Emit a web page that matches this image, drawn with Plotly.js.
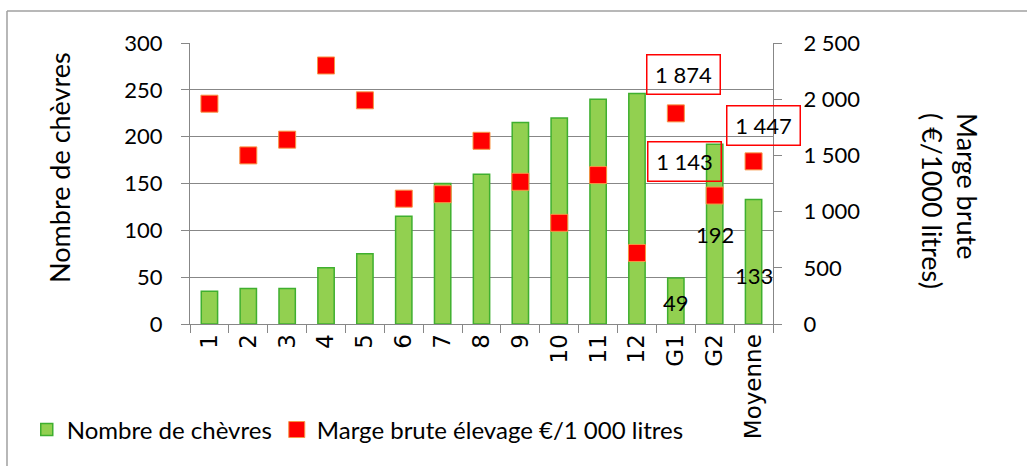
<!DOCTYPE html>
<html>
<head>
<meta charset="utf-8">
<script src="https://cdn.plot.ly/plotly-3.0.1.min.js"></script>
<style>
  html, body { margin: 0; padding: 0; background: #fff; }
  #chart { width: 1027px; height: 466px; }
</style>
</head>
<body>
<div id="chart"></div>
<script>
// categories on the x axis
let elevages = ["1", "2", "3", "4", "5", "6", "7", "8", "9", "10", "11", "12", "G1", "G2", "Moyenne"];

// number of goats (left axis)
let nbChevres = [35, 38, 38, 60, 75, 115, 150, 160, 215, 220, 240, 246, 49, 192, 133];

// gross margin in euros per 1000 litres (right axis)
let margeBrute = [1960, 1500, 1640, 2300, 1990, 1115, 1155, 1630, 1265, 900, 1325, 632, 1874, 1143, 1447];

// which bars / points carry a value label
let barLabelIdx = [12, 13, 14];
let boxLabelIdx = [12, 13, 14];

// offsets of the labels from their data point, in pixels
let barLabelShift = [-24, -90, -76];
let boxLabelShift = [[8, 39], [-30, 34], [10, 36]];

let gris = "#878787";

// french number format: 1 874
function fmt(v) {
    return String(v).replace(/\B(?=(\d{3})+(?!\d))/g, " ");
}

let barTrace = {
    x: elevages,
    y: nbChevres,
    name: "Nombre de chèvres",
    type: "bar",
    marker: { color: "#92D050", line: { color: "#3FAF2F", width: 1.5 } },
    hoverinfo: "x+y"
};

let margeTrace = {
    x: elevages,
    y: margeBrute,
    name: "Marge brute élevage €/1 000 litres",
    type: "scatter",
    mode: "markers",
    yaxis: "y2",
    marker: { symbol: "square", size: 17, color: "#FF0000", line: { color: "#F79646", width: 1 } },
    hoverinfo: "x+y"
};

let annotations = [];

// plain labels on the last three bars
barLabelIdx.forEach(function(i, k) {
    annotations.push({
        x: elevages[i], y: nbChevres[i], xref: "x", yref: "y",
        text: String(nbChevres[i]), showarrow: false,
        yshift: barLabelShift[k],
        font: { family: "Lato", size: 22, color: "#000" }
    });
});

// boxed labels for the last three points
boxLabelIdx.forEach(function(i, k) {
    annotations.push({
        x: elevages[i], y: margeBrute[i], xref: "x", yref: "y2",
        text: fmt(margeBrute[i]), showarrow: false,
        xshift: boxLabelShift[k][0], yshift: boxLabelShift[k][1],
        width: 70, height: 36,
        bordercolor: "#FF0000", borderwidth: 1.5,
        font: { family: "Lato", size: 22, color: "#000" }
    });
});

// axis titles
annotations.push({
    xref: "paper", yref: "paper", x: -0.223, y: 0.559,
    xanchor: "center", yanchor: "middle",
    text: "Nombre de chèvres", textangle: -90, showarrow: false,
    font: { family: "Lato", size: 27, color: "#000" }
});
annotations.push({
    xref: "paper", yref: "paper", x: 1.3036, y: 0.4377,
    xanchor: "center", yanchor: "middle",
    text: "Marge brute<br>( €/1000 litres)", textangle: 90, align: "left", showarrow: false,
    font: { family: "Lato", size: 27, color: "#000" }
});

let layout = {
    width: 1027,
    height: 466,
    margin: { l: 190, r: 254, t: 43, b: 142 },
    paper_bgcolor: "#fff",
    plot_bgcolor: "#fff",
    separators: ", ",
    font: { family: "Lato", size: 22, color: "#000" },
    showlegend: true,
    bargap: 0.58,
    xaxis: {
        type: "category",
        range: [-0.5, elevages.length - 0.5],
        tickangle: -90,
        ticks: "outside",
        tickson: "boundaries",
        ticklen: 8,
        tickcolor: gris,
        showline: true,
        linecolor: gris,
        showgrid: false,
        zeroline: false,
        tickfont: { family: "DejaVu Sans", size: 23, color: "#000" }
    },
    yaxis: {
        range: [0, 300],
        dtick: 50,
        ticks: "outside",
        ticklen: 8,
        tickcolor: gris,
        showline: true,
        linecolor: gris,
        gridcolor: gris,
        zeroline: false,
        ticklabelstandoff: 14,
        tickfont: { family: "Lato", size: 22, color: "#000" }
    },
    yaxis2: {
        range: [0, 2500],
        dtick: 500,
        overlaying: "y",
        side: "right",
        ticks: "outside",
        ticklen: 8,
        tickcolor: gris,
        showline: true,
        linecolor: gris,
        showgrid: false,
        zeroline: false,
        separatethousands: true,
        ticklabelstandoff: 17,
        tickfont: { family: "Lato", size: 22, color: "#000" }
    },
    legend: {
        orientation: "h",
        x: -0.28,
        xanchor: "left",
        y: -0.377,
        yanchor: "middle",
        font: { family: "Lato", size: 24, color: "#000" },
        bgcolor: "rgba(0,0,0,0)"
    },
    annotations: annotations,
    // chart frame: top and left edges
    shapes: [
        { type: "line", xref: "paper", yref: "paper", x0: -0.3139, x1: 1.45, y0: 1.1139, y1: 1.1139, line: { color: "#A0A0A0", width: 1.5 } },
        { type: "line", xref: "paper", yref: "paper", x0: -0.3139, x1: -0.3139, y0: 1.1139, y1: -0.52, line: { color: "#A0A0A0", width: 1.5 } }
    ]
};

Plotly.newPlot("chart", [barTrace, margeTrace], layout, { displayModeBar: false, staticPlot: true });
</script>
</body>
</html>
